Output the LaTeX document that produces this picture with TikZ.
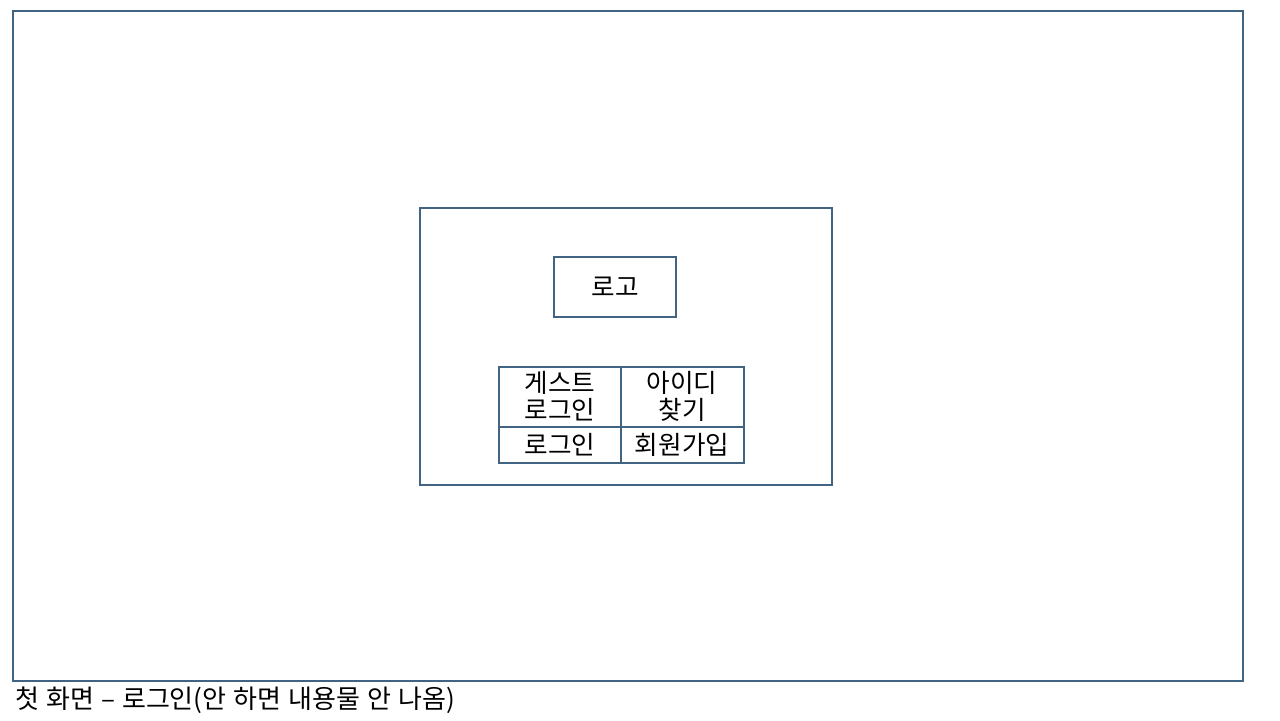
\documentclass[tikz,border=0pt]{standalone}
\usepackage{fontspec}
\setmainfont{Noto Sans CJK KR}
\definecolor{edge}{RGB}{65,100,130}
\begin{document}
\begin{tikzpicture}[x=0.5pt,y=-0.5pt,
  box/.style={draw=edge,line width=0.55pt},
  txt/.style={font=\fontsize{12.8}{13.6}\selectfont,inner sep=0pt,align=center,text=black}]
\useasboundingbox (0,0) rectangle (1280,720);
\fill[white] (0,0) rectangle (1280,720);
\draw[box] (13,11) rectangle (1243,681);
\draw[box] (420,208) rectangle (832,485);
\draw[box] (554,257) rectangle (676,317);
\node[txt] (logo) at (615,287) {로고};
\draw[box] (499,367) rectangle (744,463);
\draw[box] (621,367) -- (621,463);
\draw[box] (499,427) -- (744,427);
\node[txt] (guest) at (560,396) {게스트\\로그인};
\node[txt] (findid) at (682,396) {아이디\\찾기};
\node[txt] (login) at (560,445) {로그인};
\node[txt] (join) at (682,445) {회원가입};
\node[txt,anchor=west,font=\fontsize{13}{15}\selectfont] (cap) at (15,700) {\spaceskip=0.27em\relax 첫 화면 – 로그인(안 하면 내용물 안 나옴)};
\end{tikzpicture}
\end{document}
